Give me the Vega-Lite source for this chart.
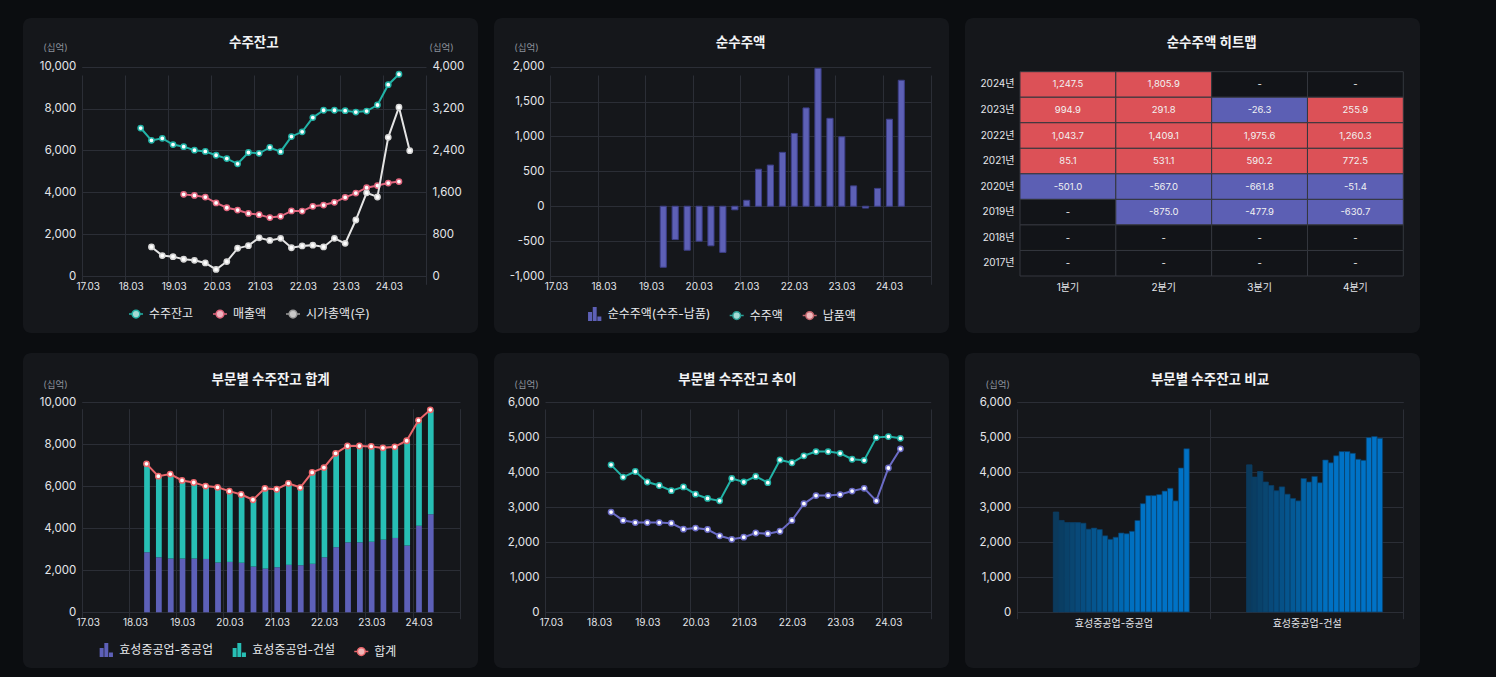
{
  "$schema": "https://vega.github.io/schema/vega-lite/v6.json",
  "background": "#0b0d10",
  "padding": {"left": 23, "top": 18, "right": 76, "bottom": 9},
  "bounds": "flush",
  "columns": 3,
  "spacing": {"row": 20, "column": 16},
  "resolve": {"scale": {"color": "independent", "fill": "independent", "stroke": "independent", "shape": "independent"}},
  "datasets": {
    "sec": [
      {"q": "2018-06", "s": "효성중공업-중공업", "v": 2860}, {"q": "2018-06", "s": "효성중공업-건설", "v": 4210},
      {"q": "2018-09", "s": "효성중공업-중공업", "v": 2620}, {"q": "2018-09", "s": "효성중공업-건설", "v": 3860},
      {"q": "2018-12", "s": "효성중공업-중공업", "v": 2560}, {"q": "2018-12", "s": "효성중공업-건설", "v": 4020},
      {"q": "2019-03", "s": "효성중공업-중공업", "v": 2560}, {"q": "2019-03", "s": "효성중공업-건설", "v": 3720},
      {"q": "2019-06", "s": "효성중공업-중공업", "v": 2560}, {"q": "2019-06", "s": "효성중공업-건설", "v": 3620},
      {"q": "2019-09", "s": "효성중공업-중공업", "v": 2540}, {"q": "2019-09", "s": "효성중공업-건설", "v": 3470},
      {"q": "2019-12", "s": "효성중공업-중공업", "v": 2370}, {"q": "2019-12", "s": "효성중공업-건설", "v": 3580},
      {"q": "2020-03", "s": "효성중공업-중공업", "v": 2400}, {"q": "2020-03", "s": "효성중공업-건설", "v": 3370},
      {"q": "2020-06", "s": "효성중공업-중공업", "v": 2360}, {"q": "2020-06", "s": "효성중공업-건설", "v": 3250},
      {"q": "2020-09", "s": "효성중공업-중공업", "v": 2180}, {"q": "2020-09", "s": "효성중공업-건설", "v": 3180},
      {"q": "2020-12", "s": "효성중공업-중공업", "v": 2080}, {"q": "2020-12", "s": "효성중공업-건설", "v": 3820},
      {"q": "2021-03", "s": "효성중공업-중공업", "v": 2140}, {"q": "2021-03", "s": "효성중공업-건설", "v": 3720},
      {"q": "2021-06", "s": "효성중공업-중공업", "v": 2260}, {"q": "2021-06", "s": "효성중공업-건설", "v": 3880},
      {"q": "2021-09", "s": "효성중공업-중공업", "v": 2240}, {"q": "2021-09", "s": "효성중공업-건설", "v": 3700},
      {"q": "2021-12", "s": "효성중공업-중공업", "v": 2310}, {"q": "2021-12", "s": "효성중공업-건설", "v": 4350},
      {"q": "2022-03", "s": "효성중공업-중공업", "v": 2620}, {"q": "2022-03", "s": "효성중공업-건설", "v": 4270},
      {"q": "2022-06", "s": "효성중공업-중공업", "v": 3100}, {"q": "2022-06", "s": "효성중공업-건설", "v": 4470},
      {"q": "2022-09", "s": "효성중공업-중공업", "v": 3330}, {"q": "2022-09", "s": "효성중공업-건설", "v": 4590},
      {"q": "2022-12", "s": "효성중공업-중공업", "v": 3330}, {"q": "2022-12", "s": "효성중공업-건설", "v": 4590},
      {"q": "2023-03", "s": "효성중공업-중공업", "v": 3360}, {"q": "2023-03", "s": "효성중공업-건설", "v": 4540},
      {"q": "2023-06", "s": "효성중공업-중공업", "v": 3460}, {"q": "2023-06", "s": "효성중공업-건설", "v": 4370},
      {"q": "2023-09", "s": "효성중공업-중공업", "v": 3540}, {"q": "2023-09", "s": "효성중공업-건설", "v": 4340},
      {"q": "2023-12", "s": "효성중공업-중공업", "v": 3180}, {"q": "2023-12", "s": "효성중공업-건설", "v": 4990},
      {"q": "2024-03", "s": "효성중공업-중공업", "v": 4120}, {"q": "2024-03", "s": "효성중공업-건설", "v": 5020},
      {"q": "2024-06", "s": "효성중공업-중공업", "v": 4670}, {"q": "2024-06", "s": "효성중공업-건설", "v": 4970}
    ],
    "sales": [
      {"q": "2019-06", "v": 3900}, {"q": "2019-09", "v": 3850}, {"q": "2019-12", "v": 3770}, {"q": "2020-03", "v": 3490},
      {"q": "2020-06", "v": 3260}, {"q": "2020-09", "v": 3150}, {"q": "2020-12", "v": 2990}, {"q": "2021-03", "v": 2930},
      {"q": "2021-06", "v": 2790}, {"q": "2021-09", "v": 2850}, {"q": "2021-12", "v": 3110}, {"q": "2022-03", "v": 3100},
      {"q": "2022-06", "v": 3330}, {"q": "2022-09", "v": 3390}, {"q": "2022-12", "v": 3520}, {"q": "2023-03", "v": 3760},
      {"q": "2023-06", "v": 3960}, {"q": "2023-09", "v": 4220}, {"q": "2023-12", "v": 4320}, {"q": "2024-03", "v": 4440},
      {"q": "2024-06", "v": 4510}
    ],
    "mcap": [
      {"q": "2018-09", "v": 555}, {"q": "2018-12", "v": 390}, {"q": "2019-03", "v": 370}, {"q": "2019-06", "v": 320},
      {"q": "2019-09", "v": 300}, {"q": "2019-12", "v": 250}, {"q": "2020-03", "v": 125}, {"q": "2020-06", "v": 275},
      {"q": "2020-09", "v": 530}, {"q": "2020-12", "v": 580}, {"q": "2021-03", "v": 730}, {"q": "2021-06", "v": 680},
      {"q": "2021-09", "v": 720}, {"q": "2021-12", "v": 540}, {"q": "2022-03", "v": 575}, {"q": "2022-06", "v": 590},
      {"q": "2022-09", "v": 555}, {"q": "2022-12", "v": 720}, {"q": "2023-03", "v": 625}, {"q": "2023-06", "v": 1070},
      {"q": "2023-09", "v": 1590}, {"q": "2023-12", "v": 1510}, {"q": "2024-03", "v": 2650}, {"q": "2024-06", "v": 3225},
      {"q": "2024-09", "v": 2395}
    ],
    "net": [
      {"q": "2019-06", "v": -875.0}, {"q": "2019-09", "v": -477.9}, {"q": "2019-12", "v": -630.7},
      {"q": "2020-03", "v": -501.0}, {"q": "2020-06", "v": -567.0}, {"q": "2020-09", "v": -661.8}, {"q": "2020-12", "v": -51.4},
      {"q": "2021-03", "v": 85.1}, {"q": "2021-06", "v": 531.1}, {"q": "2021-09", "v": 590.2}, {"q": "2021-12", "v": 772.5},
      {"q": "2022-03", "v": 1043.7}, {"q": "2022-06", "v": 1409.1}, {"q": "2022-09", "v": 1975.6}, {"q": "2022-12", "v": 1260.3},
      {"q": "2023-03", "v": 994.9}, {"q": "2023-06", "v": 291.8}, {"q": "2023-09", "v": -26.3}, {"q": "2023-12", "v": 255.9},
      {"q": "2024-03", "v": 1247.5}, {"q": "2024-06", "v": 1805.9}
    ],
    "heat": [
      {"yr": "2024년", "qn": "1분기", "v": 1247.5, "t": "1,247.5"}, {"yr": "2024년", "qn": "2분기", "v": 1805.9, "t": "1,805.9"},
      {"yr": "2024년", "qn": "3분기", "v": null, "t": "-"}, {"yr": "2024년", "qn": "4분기", "v": null, "t": "-"},
      {"yr": "2023년", "qn": "1분기", "v": 994.9, "t": "994.9"}, {"yr": "2023년", "qn": "2분기", "v": 291.8, "t": "291.8"},
      {"yr": "2023년", "qn": "3분기", "v": -26.3, "t": "-26.3"}, {"yr": "2023년", "qn": "4분기", "v": 255.9, "t": "255.9"},
      {"yr": "2022년", "qn": "1분기", "v": 1043.7, "t": "1,043.7"}, {"yr": "2022년", "qn": "2분기", "v": 1409.1, "t": "1,409.1"},
      {"yr": "2022년", "qn": "3분기", "v": 1975.6, "t": "1,975.6"}, {"yr": "2022년", "qn": "4분기", "v": 1260.3, "t": "1,260.3"},
      {"yr": "2021년", "qn": "1분기", "v": 85.1, "t": "85.1"}, {"yr": "2021년", "qn": "2분기", "v": 531.1, "t": "531.1"},
      {"yr": "2021년", "qn": "3분기", "v": 590.2, "t": "590.2"}, {"yr": "2021년", "qn": "4분기", "v": 772.5, "t": "772.5"},
      {"yr": "2020년", "qn": "1분기", "v": -501.0, "t": "-501.0"}, {"yr": "2020년", "qn": "2분기", "v": -567.0, "t": "-567.0"},
      {"yr": "2020년", "qn": "3분기", "v": -661.8, "t": "-661.8"}, {"yr": "2020년", "qn": "4분기", "v": -51.4, "t": "-51.4"},
      {"yr": "2019년", "qn": "1분기", "v": null, "t": "-"}, {"yr": "2019년", "qn": "2분기", "v": -875.0, "t": "-875.0"},
      {"yr": "2019년", "qn": "3분기", "v": -477.9, "t": "-477.9"}, {"yr": "2019년", "qn": "4분기", "v": -630.7, "t": "-630.7"},
      {"yr": "2018년", "qn": "1분기", "v": null, "t": "-"}, {"yr": "2018년", "qn": "2분기", "v": null, "t": "-"},
      {"yr": "2018년", "qn": "3분기", "v": null, "t": "-"}, {"yr": "2018년", "qn": "4분기", "v": null, "t": "-"},
      {"yr": "2017년", "qn": "1분기", "v": null, "t": "-"}, {"yr": "2017년", "qn": "2분기", "v": null, "t": "-"},
      {"yr": "2017년", "qn": "3분기", "v": null, "t": "-"}, {"yr": "2017년", "qn": "4분기", "v": null, "t": "-"}
    ]
  },
  "concat": [
    {
      "width": 455, "height": 315,
      "view": {"fill": "#15171b", "stroke": null, "cornerRadius": 8},
      "title": {"text": "수주잔고", "offset": -31.5, "dx": 3.3},
      "layer": [
        {
          "layer": [
            {
              "data": {"name": "sec"},
              "mark": {"type": "line", "color": "#22b3a7", "strokeWidth": 2},
              "encoding": {
                "x": {"field": "q", "type": "temporal", "timeUnit": "yearquarter", "bandPosition": 0.5,
                  "scale": {"domain": [{"year": 2017, "month": 1, "date": 1}, {"year": 2025, "month": 1, "date": 1}], "range": [58.7, 403], "nice": false},
                  "axis": {"values": [{"year": 2017, "month": 1, "date": 1}, {"year": 2018, "month": 1, "date": 1}, {"year": 2019, "month": 1, "date": 1}, {"year": 2020, "month": 1, "date": 1}, {"year": 2021, "month": 1, "date": 1}, {"year": 2022, "month": 1, "date": 1}, {"year": 2023, "month": 1, "date": 1}, {"year": 2024, "month": 1, "date": 1}, {"year": 2025, "month": 1, "date": 1}],
                    "labelExpr": "year(datum.value) > 2024 ? '' : timeFormat(datum.value, '%y') + '.03'",
                    "offset": -57, "labelPadding": 5, "labelOffset": 6, "labelFontSize": 10, "labelFlush": false, "grid": true, "title": null}},
                "y": {"aggregate": "sum", "field": "v", "type": "quantitative",
                  "scale": {"domain": [0, 10000], "range": [258, 48.7], "nice": false},
                  "axis": {"values": [0, 2000, 4000, 6000, 8000, 10000], "format": ",.0f", "offset": -58.7, "labelPadding": 6, "grid": true,
                    "title": "(십억)", "titleAngle": 0, "titleX": -26.7, "titleY": 29.3, "titleAlign": "center", "titleBaseline": "middle"}}
              }
            },
            {
              "data": {"name": "sec"},
              "mark": {"type": "point", "filled": false, "fill": "white", "stroke": "#22b3a7", "strokeWidth": 1.5, "size": 28, "opacity": 1},
              "encoding": {
                "x": {"field": "q", "type": "temporal", "timeUnit": "yearquarter", "bandPosition": 0.5},
                "y": {"aggregate": "sum", "field": "v", "type": "quantitative"}
              }
            },
            {
              "data": {"name": "sales"},
              "mark": {"type": "line", "color": "#e2677f", "strokeWidth": 2},
              "encoding": {
                "x": {"field": "q", "type": "temporal", "timeUnit": "yearquarter", "bandPosition": 0.5},
                "y": {"field": "v", "type": "quantitative"}
              }
            },
            {
              "data": {"name": "sales"},
              "mark": {"type": "point", "filled": false, "fill": "white", "stroke": "#e2677f", "strokeWidth": 1.5, "size": 28, "opacity": 1},
              "encoding": {
                "x": {"field": "q", "type": "temporal", "timeUnit": "yearquarter", "bandPosition": 0.5},
                "y": {"field": "v", "type": "quantitative"}
              }
            },
            {
              "data": {"name": "sec"},
              "transform": [{"filter": "false"}],
              "mark": {"type": "point", "opacity": 1},
              "encoding": {
                "fill": {"field": "s", "type": "nominal", "scale": {"domain": ["수주잔고", "매출액", "시가총액(우)"], "range": ["#a3dbd5", "#efb3bf", "#c9c9c9"]},
                  "legend": {"title": null, "orient": "none", "legendX": 105, "legendY": 288, "direction": "horizontal", "symbolSize": 196}},
                "stroke": {"field": "s", "type": "nominal", "scale": {"domain": ["수주잔고", "매출액", "시가총액(우)"], "range": ["#22b3a7", "#e2677f", "#9c9c9c"]},
                  "legend": {"title": null, "orient": "none", "legendX": 105, "legendY": 288, "direction": "horizontal", "symbolSize": 196}},
                "shape": {"field": "s", "type": "nominal", "scale": {"domain": ["수주잔고", "매출액", "시가총액(우)"], "range": ["M-1,0H-0.55M0.55,0H1M0.55,0A0.55,0.55,0,1,1,-0.55,0A0.55,0.55,0,1,1,0.55,0Z", "M-1,0H-0.55M0.55,0H1M0.55,0A0.55,0.55,0,1,1,-0.55,0A0.55,0.55,0,1,1,0.55,0Z", "M-1,0H-0.55M0.55,0H1M0.55,0A0.55,0.55,0,1,1,-0.55,0A0.55,0.55,0,1,1,0.55,0Z"]},
                  "legend": {"title": null, "orient": "none", "legendX": 105, "legendY": 288, "direction": "horizontal", "symbolSize": 196}}
              }
            }
          ]
        },
        {
          "layer": [
            {
              "data": {"name": "mcap"},
              "mark": {"type": "line", "color": "#e4e4e4", "strokeWidth": 2},
              "encoding": {
                "x": {"field": "q", "type": "temporal", "timeUnit": "yearquarter", "bandPosition": 0.5},
                "y": {"field": "v", "type": "quantitative",
                  "scale": {"domain": [0, 4000], "range": [258, 48.7], "nice": false},
                  "axis": {"orient": "right", "values": [0, 800, 1600, 2400, 3200, 4000], "format": ",.0f", "offset": -52, "labelPadding": 6, "grid": false,
                    "title": "(십억)", "titleAngle": 0, "titleX": 15, "titleY": 29.3, "titleAlign": "center", "titleBaseline": "middle"}}
              }
            },
            {
              "data": {"name": "mcap"},
              "mark": {"type": "point", "filled": false, "fill": "white", "stroke": "#d6d6d6", "strokeWidth": 1.5, "size": 28, "opacity": 1},
              "encoding": {
                "x": {"field": "q", "type": "temporal", "timeUnit": "yearquarter", "bandPosition": 0.5},
                "y": {"field": "v", "type": "quantitative"}
              }
            }
          ]
        }
      ],
      "resolve": {"scale": {"y": "independent"}}
    },
    {
      "width": 455, "height": 315,
      "view": {"fill": "#15171b", "stroke": null, "cornerRadius": 8},
      "title": {"text": "순수주액", "offset": -31.5, "dx": 19.2},
      "layer": [
        {
          "data": {"name": "net"},
          "mark": {"type": "bar", "color": "#5d60b6", "stroke": "#3c3e86", "strokeWidth": 1, "width": {"band": 0.6}},
          "encoding": {
            "x": {"field": "q", "type": "temporal", "timeUnit": "yearquarter",
              "scale": {"domain": [{"year": 2017, "month": 1, "date": 1}, {"year": 2025, "month": 1, "date": 1}], "range": [56, 436.7], "nice": false},
              "axis": {"values": [{"year": 2017, "month": 1, "date": 1}, {"year": 2018, "month": 1, "date": 1}, {"year": 2019, "month": 1, "date": 1}, {"year": 2020, "month": 1, "date": 1}, {"year": 2021, "month": 1, "date": 1}, {"year": 2022, "month": 1, "date": 1}, {"year": 2023, "month": 1, "date": 1}, {"year": 2024, "month": 1, "date": 1}, {"year": 2025, "month": 1, "date": 1}],
                "labelExpr": "year(datum.value) > 2024 ? '' : timeFormat(datum.value, '%y') + '.03'",
                "offset": -57, "labelPadding": 5, "labelOffset": 6, "labelFontSize": 10, "labelFlush": false, "grid": true, "title": null}},
            "y": {"field": "v", "type": "quantitative",
              "scale": {"domain": [-1000, 2000], "range": [258, 48.7], "nice": false},
              "axis": {"values": [-1000, -500, 0, 500, 1000, 1500, 2000], "labelExpr": "replace(format(datum.value, ',.0f'), '\u2212', '-')", "offset": -56, "labelPadding": 6, "grid": true,
                "title": "(십억)", "titleAngle": 0, "titleX": -24, "titleY": 29.3, "titleAlign": "center", "titleBaseline": "middle"}}
          }
        },
        {
          "data": {"name": "net"},
          "transform": [{"filter": "false"}],
          "mark": {"type": "point", "opacity": 1},
          "encoding": {
            "fill": {"field": "s", "type": "nominal", "scale": {"domain": ["순수주액(수주-납품)", "수주액", "납품액"], "range": ["#5d60b6", "#a3dbd5", "#efb8bc"]},
              "legend": {"title": null, "orient": "none", "legendX": 92.7, "legendY": 288, "direction": "horizontal", "symbolSize": 196}},
            "stroke": {"field": "s", "type": "nominal", "scale": {"domain": ["순수주액(수주-납품)", "수주액", "납품액"], "range": ["transparent", "#2a9d94", "#c4666e"]},
              "legend": {"title": null, "orient": "none", "legendX": 92.7, "legendY": 288, "direction": "horizontal", "symbolSize": 196}},
            "shape": {"field": "s", "type": "nominal", "scale": {"domain": ["순수주액(수주-납품)", "수주액", "납품액"], "range": ["M-0.95,1V-0.3H-0.38V1ZM-0.28,1V-1H0.28V1ZM0.38,1V0.35H0.95V1Z", "M-1,0H-0.55M0.55,0H1M0.55,0A0.55,0.55,0,1,1,-0.55,0A0.55,0.55,0,1,1,0.55,0Z", "M-1,0H-0.55M0.55,0H1M0.55,0A0.55,0.55,0,1,1,-0.55,0A0.55,0.55,0,1,1,0.55,0Z"]},
              "legend": {"title": null, "orient": "none", "legendX": 92.7, "legendY": 288, "direction": "horizontal", "symbolSize": 196}}
          }
        }
      ]
    },
    {
      "width": 455, "height": 315,
      "view": {"fill": "#15171b", "stroke": null, "cornerRadius": 8},
      "title": {"text": "순수주액 히트맵", "offset": -31, "dx": 19.2},
      "data": {"name": "heat"},
      "encoding": {
        "x": {"field": "qn", "type": "ordinal",
          "scale": {"domain": ["1분기", "2분기", "3분기", "4분기"], "range": [55, 438.3], "paddingInner": 0, "paddingOuter": 0},
          "axis": {"offset": -57, "labelPadding": 6, "labelAngle": 0, "labelFontSize": 10, "grid": false, "title": null}},
        "y": {"field": "yr", "type": "ordinal",
          "scale": {"domain": ["2024년", "2023년", "2022년", "2021년", "2020년", "2019년", "2018년", "2017년"], "range": [53.7, 258], "paddingInner": 0, "paddingOuter": 0},
          "axis": {"offset": -55, "labelPadding": 6, "labelFontSize": 10, "grid": false, "title": null}}
      },
      "layer": [
        {
          "mark": {"type": "rect", "stroke": "#34373e", "strokeWidth": 1, "invalid": "show"},
          "encoding": {
            "fill": {"condition": {"test": "datum.t === '-'", "value": "#121418"},
              "field": "v", "type": "quantitative",
              "scale": {"type": "threshold", "domain": [0], "range": ["#5c5fb4", "#dc5157"]}, "legend": null}
          }
        },
        {
          "mark": {"type": "text", "fontSize": 9.5, "color": "#f2f2f2"},
          "encoding": {"text": {"field": "t", "type": "nominal"}}
        }
      ]
    },
    {
      "width": 455, "height": 315,
      "view": {"fill": "#15171b", "stroke": null, "cornerRadius": 8},
      "title": {"text": "부문별 수주잔고 합계", "offset": -33, "dx": 20.2},
      "layer": [
        {
          "data": {"name": "sec"},
          "mark": {"type": "bar", "width": {"band": 0.57}},
          "encoding": {
            "x": {"field": "q", "type": "temporal", "timeUnit": "yearquarter",
              "scale": {"domain": [{"year": 2017, "month": 1, "date": 1}, {"year": 2025, "month": 1, "date": 1}], "range": [58.7, 437], "nice": false},
              "axis": {"values": [{"year": 2017, "month": 1, "date": 1}, {"year": 2018, "month": 1, "date": 1}, {"year": 2019, "month": 1, "date": 1}, {"year": 2020, "month": 1, "date": 1}, {"year": 2021, "month": 1, "date": 1}, {"year": 2022, "month": 1, "date": 1}, {"year": 2023, "month": 1, "date": 1}, {"year": 2024, "month": 1, "date": 1}, {"year": 2025, "month": 1, "date": 1}],
                "labelExpr": "year(datum.value) > 2024 ? '' : timeFormat(datum.value, '%y') + '.03'",
                "offset": -55.7, "labelPadding": 5, "labelOffset": 6, "labelFontSize": 10, "labelFlush": false, "grid": true, "title": null}},
            "y": {"field": "v", "type": "quantitative", "stack": "zero",
              "scale": {"domain": [0, 10000], "range": [259.3, 49.3], "nice": false},
              "axis": {"values": [0, 2000, 4000, 6000, 8000, 10000], "format": ",.0f", "offset": -58.7, "labelPadding": 6, "grid": true,
                "title": "(십억)", "titleAngle": 0, "titleX": -26.7, "titleY": 31, "titleAlign": "center", "titleBaseline": "middle"}},
            "color": {"field": "s", "type": "nominal", "scale": {"domain": ["효성중공업-중공업", "효성중공업-건설"], "range": ["#5d60b8", "#27bfb5"]}, "legend": null},
            "order": {"field": "s", "sort": "descending"}
          }
        },
        {
          "data": {"name": "sec"},
          "mark": {"type": "line", "color": "#ea676c", "strokeWidth": 2},
          "encoding": {
            "x": {"field": "q", "type": "temporal", "timeUnit": "yearquarter", "bandPosition": 0.5},
            "y": {"aggregate": "sum", "field": "v", "type": "quantitative"}
          }
        },
        {
          "data": {"name": "sec"},
          "mark": {"type": "point", "filled": false, "fill": "white", "stroke": "#ea676c", "strokeWidth": 1.5, "size": 28, "opacity": 1},
          "encoding": {
            "x": {"field": "q", "type": "temporal", "timeUnit": "yearquarter", "bandPosition": 0.5},
            "y": {"aggregate": "sum", "field": "v", "type": "quantitative"}
          }
        },
        {
          "data": {"name": "sec"},
          "transform": [{"filter": "false"}],
          "mark": {"type": "point", "opacity": 1},
          "encoding": {
            "fill": {"field": "s", "type": "nominal", "scale": {"domain": ["효성중공업-중공업", "효성중공업-건설", "합계"], "range": ["#5d60b8", "#27bfb5", "#f2b8b8"]},
              "legend": {"title": null, "orient": "none", "legendX": 75.3, "legendY": 289, "direction": "horizontal", "symbolSize": 196}},
            "stroke": {"field": "s", "type": "nominal", "scale": {"domain": ["효성중공업-중공업", "효성중공업-건설", "합계"], "range": ["transparent", "transparent", "#ea676c"]},
              "legend": {"title": null, "orient": "none", "legendX": 75.3, "legendY": 289, "direction": "horizontal", "symbolSize": 196}},
            "shape": {"field": "s", "type": "nominal", "scale": {"domain": ["효성중공업-중공업", "효성중공업-건설", "합계"], "range": ["M-0.95,1V-0.3H-0.38V1ZM-0.28,1V-1H0.28V1ZM0.38,1V0.35H0.95V1Z", "M-0.95,1V-0.3H-0.38V1ZM-0.28,1V-1H0.28V1ZM0.38,1V0.35H0.95V1Z", "M-1,0H-0.55M0.55,0H1M0.55,0A0.55,0.55,0,1,1,-0.55,0A0.55,0.55,0,1,1,0.55,0Z"]},
              "legend": {"title": null, "orient": "none", "legendX": 75.3, "legendY": 289, "direction": "horizontal", "symbolSize": 196}}
          }
        }
      ]
    },
    {
      "width": 455, "height": 315,
      "view": {"fill": "#15171b", "stroke": null, "cornerRadius": 8},
      "title": {"text": "부문별 수주잔고 추이", "offset": -33, "dx": 15.8},
      "layer": [
        {
          "data": {"name": "sec"},
          "mark": {"type": "line", "strokeWidth": 2},
          "encoding": {
            "x": {"field": "q", "type": "temporal", "timeUnit": "yearquarter", "bandPosition": 0.5,
              "scale": {"domain": [{"year": 2017, "month": 1, "date": 1}, {"year": 2025, "month": 1, "date": 1}], "range": [51, 436.7], "nice": false},
              "axis": {"values": [{"year": 2017, "month": 1, "date": 1}, {"year": 2018, "month": 1, "date": 1}, {"year": 2019, "month": 1, "date": 1}, {"year": 2020, "month": 1, "date": 1}, {"year": 2021, "month": 1, "date": 1}, {"year": 2022, "month": 1, "date": 1}, {"year": 2023, "month": 1, "date": 1}, {"year": 2024, "month": 1, "date": 1}, {"year": 2025, "month": 1, "date": 1}],
                "labelExpr": "year(datum.value) > 2024 ? '' : timeFormat(datum.value, '%y') + '.03'",
                "offset": -56, "labelPadding": 5, "labelOffset": 6, "labelFontSize": 10, "labelFlush": false, "grid": true, "title": null}},
            "y": {"field": "v", "type": "quantitative",
              "scale": {"domain": [0, 6000], "range": [259, 49.3], "nice": false},
              "axis": {"values": [0, 1000, 2000, 3000, 4000, 5000, 6000], "format": ",.0f", "offset": -51, "labelPadding": 6, "grid": true,
                "title": "(십억)", "titleAngle": 0, "titleX": -19, "titleY": 31, "titleAlign": "center", "titleBaseline": "middle"}},
            "color": {"field": "s", "type": "nominal", "scale": {"domain": ["효성중공업-중공업", "효성중공업-건설"], "range": ["#6b6cc6", "#22b4a8"]}, "legend": null}
          }
        },
        {
          "data": {"name": "sec"},
          "mark": {"type": "point", "filled": false, "fill": "white", "strokeWidth": 1.5, "size": 28, "opacity": 1},
          "encoding": {
            "x": {"field": "q", "type": "temporal", "timeUnit": "yearquarter", "bandPosition": 0.5},
            "y": {"field": "v", "type": "quantitative"},
            "color": {"field": "s", "type": "nominal", "legend": null}
          }
        },
        {
          "data": {"name": "sec"},
          "transform": [{"filter": "false"}],
          "mark": {"type": "point", "opacity": 1},
          "encoding": {
            "fill": {"field": "s", "type": "nominal", "scale": {"domain": ["효성중공업-중공업", "효성중공업-건설"], "range": ["#ffffff", "#ffffff"]},
              "legend": {"title": null, "orient": "none", "legendX": 105, "legendY": 289, "direction": "horizontal", "symbolSize": 196}},
            "stroke": {"field": "s", "type": "nominal", "scale": {"domain": ["효성중공업-중공업", "효성중공업-건설"], "range": ["#6b6cc6", "#22b4a8"]},
              "legend": {"title": null, "orient": "none", "legendX": 105, "legendY": 289, "direction": "horizontal", "symbolSize": 196}},
            "shape": {"field": "s", "type": "nominal", "scale": {"domain": ["효성중공업-중공업", "효성중공업-건설"], "range": ["M-1,0H-0.55M0.55,0H1M0.55,0A0.55,0.55,0,1,1,-0.55,0A0.55,0.55,0,1,1,0.55,0Z", "M-1,0H-0.55M0.55,0H1M0.55,0A0.55,0.55,0,1,1,-0.55,0A0.55,0.55,0,1,1,0.55,0Z"]},
              "legend": {"title": null, "orient": "none", "legendX": 105, "legendY": 289, "direction": "horizontal", "symbolSize": 196}}
          }
        }
      ]
    },
    {
      "width": 455, "height": 315,
      "view": {"fill": "#15171b", "stroke": null, "cornerRadius": 8},
      "title": {"text": "부문별 수주잔고 비교", "offset": -33, "dx": 17.5},
      "data": {"name": "sec"},
      "mark": {"type": "bar", "stroke": "#0b3d66", "strokeWidth": 0.7},
      "encoding": {
        "x": {"field": "s", "type": "nominal",
          "scale": {"domain": ["효성중공업-중공업", "효성중공업-건설"], "range": [51.7, 438.3], "paddingInner": 0, "paddingOuter": 0},
          "axis": {"offset": -56, "tickBand": "extent", "grid": true, "labelAngle": 0, "labelPadding": 6, "labelFontSize": 10, "title": null}},
        "xOffset": {"field": "q", "type": "ordinal", "scale": {"paddingInner": 0, "paddingOuter": 0, "range": [36.6, 172.6]}},
        "y": {"field": "v", "type": "quantitative",
          "scale": {"domain": [0, 6000], "range": [259, 49.3], "nice": false},
          "axis": {"values": [0, 1000, 2000, 3000, 4000, 5000, 6000], "format": ",.0f", "offset": -51.7, "labelPadding": 6, "grid": true,
            "title": "(십억)", "titleAngle": 0, "titleX": -19.4, "titleY": 31, "titleAlign": "center", "titleBaseline": "middle"}},
        "color": {"field": "q", "type": "ordinal", "legend": null,
          "scale": {"range": ["#0b3a5c", "#0a3e63", "#09426a", "#094671", "#084979", "#074d80", "#065187", "#05558e", "#045995", "#045d9c", "#0361a3", "#0264aa", "#0168b1", "#006cb9", "#0070c0", "#0071c3", "#0072c5", "#0072c6", "#0072c6", "#0072c6", "#0072c6", "#0072c6", "#0072c6", "#0072c6", "#0072c6"]}}
      }
    }
  ],
  "config": {
    "font": "Inter, 'Noto Sans CJK KR', sans-serif",
    "view": {"fill": "#15171b", "stroke": null, "cornerRadius": 8},
    "axis": {
      "gridColor": "#2b2e36", "gridWidth": 1, "domain": false, "ticks": false, "tickSize": 0,
      "labelColor": "#e4e6ea", "labelFontSize": 11.5, "labelOverlap": false,
      "titleColor": "#8b919a", "titleFontSize": 9.5, "titleFontWeight": "normal"
    },
    "title": {"color": "#f2f3f5", "fontSize": 13.5, "fontWeight": "bold", "anchor": "middle", "frame": "group", "baseline": "middle"},
    "legend": {"labelColor": "#e8eaed", "labelFontSize": 12, "padding": 0, "symbolStrokeWidth": 1.5, "labelOffset": 5, "columnPadding": 16}
  }
}
